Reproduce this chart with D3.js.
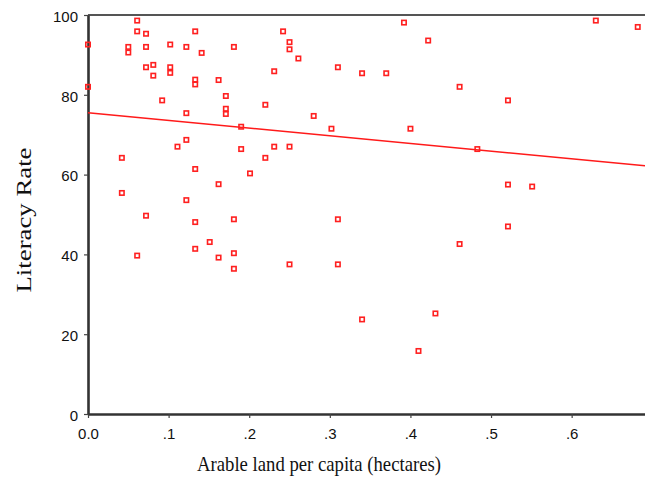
<!DOCTYPE html>
<html>
<head>
<meta charset="utf-8">
<script src="https://cdn.jsdelivr.net/npm/d3@7/dist/d3.min.js"></script>
<style>
  html, body { margin: 0; padding: 0; background: #fff; }
  svg { display: block; }
</style>
</head>
<body>
<svg id="chart" width="645" height="495"></svg>
<script>
// Data: arable land per capita (hectares) vs literacy rate
const arableLand = [
  0.000, 0.000, 0.061, 0.061, 0.072, 0.050, 0.050, 0.072, 0.102, 0.122,
  0.133, 0.141, 0.072, 0.081, 0.081, 0.102, 0.102, 0.133, 0.133, 0.162,
  0.092, 0.122, 0.122, 0.111, 0.042, 0.133, 0.162, 0.042, 0.122, 0.072,
  0.392, 0.242, 0.250, 0.250, 0.181, 0.261, 0.231, 0.310, 0.340, 0.370,
  0.171, 0.171, 0.171, 0.220, 0.280, 0.190, 0.302, 0.400, 0.190, 0.231,
  0.250, 0.220, 0.201, 0.181, 0.310, 0.630, 0.682, 0.422, 0.461, 0.521,
  0.483, 0.521, 0.551, 0.133, 0.151, 0.061, 0.133, 0.162, 0.181, 0.181,
  0.250, 0.310, 0.340, 0.410, 0.521, 0.461, 0.431
];
const literacyRate = [
  92.6, 82.0, 98.6, 95.9, 95.3, 92.0, 90.6, 92.0, 92.6, 92.0,
  95.9, 90.5, 86.9, 87.5, 84.8, 86.9, 85.5, 83.8, 82.6, 83.7,
  78.6, 75.4, 68.7, 67.0, 64.2, 61.4, 57.6, 55.4, 53.6, 49.7,
  98.1, 95.9, 93.2, 91.4, 92.0, 89.1, 85.9, 86.9, 85.4, 85.4,
  79.7, 76.5, 75.2, 77.5, 74.7, 72.0, 71.5, 71.5, 66.4, 67.0,
  67.0, 64.2, 60.3, 48.8, 48.8, 98.6, 97.0, 93.6, 82.0, 78.6,
  66.4, 57.5, 57.0, 48.1, 43.1, 39.7, 41.4, 39.2, 40.3, 36.4,
  37.5, 37.5, 23.7, 15.8, 47.0, 42.6, 25.2
];
const xTicks = [0, 0.1, 0.2, 0.3, 0.4, 0.5, 0.6];
const xTickLabels = ["0.0", ".1", ".2", ".3", ".4", ".5", ".6"];
const yTicks = [0, 20, 40, 60, 80, 100];
const yTickLabels = ["0", "20", "40", "60", "80", "100"];
const fitLineX = [0, 0.691];
const fitLineY = [75.5, 62.2];

const svg = d3.select("#chart");
const mLeft = 88, mRight = 645, mTop = 15, mBottom = 414;

const x = d3.scaleLinear().domain([0, 0.691]).range([mLeft, mRight]);
const y = d3.scaleLinear().domain([0, 100]).range([mBottom, mTop]);

// top frame line
svg.append("line")
  .attr("x1", mLeft).attr("x2", mRight)
  .attr("y1", mTop).attr("y2", mTop)
  .attr("stroke", "#555").attr("stroke-width", 2.2);

// axes
const xAxis = d3.axisBottom(x).tickValues(xTicks)
  .tickFormat((d, i) => xTickLabels[i]).tickSizeInner(4).tickSizeOuter(0).tickPadding(10);
const yAxis = d3.axisLeft(y).tickValues(yTicks)
  .tickFormat((d, i) => yTickLabels[i]).tickSizeInner(4).tickSizeOuter(0).tickPadding(6);

const gx = svg.append("g").attr("transform", `translate(0,${mBottom})`).call(xAxis);
const gy = svg.append("g").attr("transform", `translate(${mLeft},0)`).call(yAxis);

[gx, gy].forEach(g => {
  g.select(".domain").attr("stroke", "#333").attr("stroke-width", 2.6);
  g.selectAll(".tick line").attr("stroke", "#444").attr("stroke-width", 1.2);
  g.selectAll(".tick text")
    .attr("fill", "#111")
    .style("font-family", "'Liberation Sans', Arial, sans-serif")
    .style("font-size", "15px");
});
gy.selectAll(".tick text").attr("dy", "0.42em");
gx.selectAll(".tick text").attr("dy", "0.7em");

// fit line
svg.append("line")
  .attr("x1", x(fitLineX[0])).attr("y1", y(fitLineY[0]))
  .attr("x2", x(fitLineX[1])).attr("y2", y(fitLineY[1]))
  .attr("stroke", "#ff1a1a").attr("stroke-width", 1.5);

// points
const pts = arableLand.map((d, i) => ({ x: d, y: literacyRate[i] }));
const s = 4.4;
svg.append("g").selectAll("rect").data(pts).join("rect")
  .attr("x", d => x(d.x) - s / 2)
  .attr("y", d => y(d.y) - s / 2)
  .attr("width", s).attr("height", s)
  .attr("fill", "none")
  .attr("stroke", "#ff2020")
  .attr("stroke-width", 1.6);

// axis titles
svg.append("text")
  .attr("x", 319).attr("y", 471)
  .attr("text-anchor", "middle")
  .attr("textLength", 244).attr("lengthAdjust", "spacingAndGlyphs")
  .style("font-family", "'Liberation Serif', 'Times New Roman', serif")
  .style("font-size", "21px")
  .attr("fill", "#111")
  .text("Arable land per capita (hectares)");

svg.append("text")
  .attr("transform", "translate(31,220) rotate(-90)")
  .attr("text-anchor", "middle")
  .attr("textLength", 145).attr("lengthAdjust", "spacingAndGlyphs")
  .style("font-family", "'Liberation Serif', 'Times New Roman', serif")
  .style("font-size", "20px")
  .attr("fill", "#111")
  .text("Literacy Rate");
</script>
</body>
</html>
